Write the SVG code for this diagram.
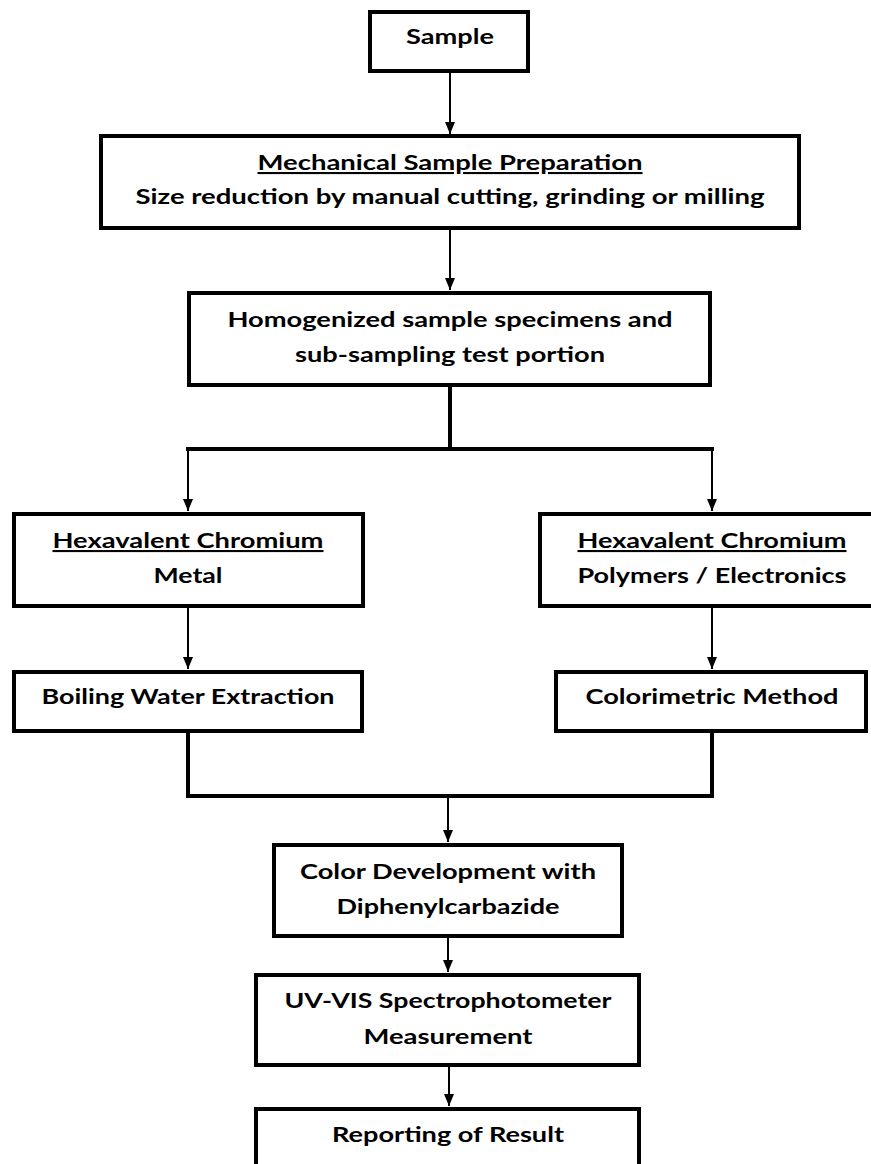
<svg xmlns="http://www.w3.org/2000/svg" width="871" height="1164" viewBox="0 0 871 1164">
<style>
.box{fill:#fff;stroke:#000;stroke-width:4}
.t{font-family:Lato,"Open Sans","Liberation Sans",sans-serif;font-weight:bold;font-size:21px;fill:#000;text-anchor:middle}
.u{text-decoration:underline}
.c{fill:none;stroke:#000;stroke-width:2}
.ck{fill:none;stroke:#000;stroke-width:4}
</style>
<defs>
<marker id="ah" markerUnits="userSpaceOnUse" markerWidth="12" markerHeight="12" refX="12" refY="6" orient="auto">
<path d="M0,1 L12,6 L0,11 Z" fill="#000"/>
</marker>
</defs>
<rect width="871" height="1164" fill="#fff"/>
<g id="connectors">
<line class="c" x1="450" y1="73" x2="450" y2="134" marker-end="url(#ah)"/>
<line class="c" x1="450" y1="230" x2="450" y2="290" marker-end="url(#ah)"/>
<polyline class="ck" points="450,387 450,449"/>
<polyline class="ck" points="186,449 714,449"/>
<line class="c" x1="188" y1="449" x2="188" y2="511" marker-end="url(#ah)"/>
<line class="c" x1="712" y1="449" x2="712" y2="511" marker-end="url(#ah)"/>
<line class="c" x1="188" y1="608" x2="188" y2="669" marker-end="url(#ah)"/>
<line class="c" x1="712" y1="608" x2="712" y2="669" marker-end="url(#ah)"/>
<polyline class="ck" points="188,733 188,796 712,796 712,733"/>
<line class="c" x1="448" y1="796" x2="448" y2="842" marker-end="url(#ah)"/>
<line class="c" x1="448" y1="938" x2="448" y2="972" marker-end="url(#ah)"/>
<line class="c" x1="449" y1="1067" x2="449" y2="1106" marker-end="url(#ah)"/>
</g>
<g id="sample">
<rect class="box" x="370" y="12" width="158" height="59"/>
<text class="t" x="450" y="44" textLength="88" lengthAdjust="spacingAndGlyphs">Sample</text>
</g>
<g id="mechanical">
<rect class="box" x="101" y="136" width="698" height="92"/>
<text class="t u" x="450" y="170" textLength="385" lengthAdjust="spacingAndGlyphs">Mechanical Sample Preparation</text>
<text class="t" x="450" y="204" textLength="629" lengthAdjust="spacingAndGlyphs">Size reduction by manual cutting, grinding or milling</text>
</g>
<g id="homogenized">
<rect class="box" x="189" y="293" width="521" height="92"/>
<text class="t" x="450" y="327" textLength="445" lengthAdjust="spacingAndGlyphs">Homogenized sample specimens and</text>
<text class="t" x="450" y="362" textLength="310" lengthAdjust="spacingAndGlyphs">sub-sampling test portion</text>
</g>
<g id="hc-metal">
<rect class="box" x="14" y="514" width="349" height="92"/>
<text class="t u" x="188" y="548" textLength="271" lengthAdjust="spacingAndGlyphs">Hexavalent Chromium</text>
<text class="t" x="188" y="583" textLength="69" lengthAdjust="spacingAndGlyphs">Metal</text>
</g>
<g id="hc-polymers">
<rect class="box" x="540" y="514" width="340" height="92"/>
<text class="t u" x="712" y="548" textLength="269" lengthAdjust="spacingAndGlyphs">Hexavalent Chromium</text>
<text class="t" x="712" y="583" textLength="269" lengthAdjust="spacingAndGlyphs">Polymers / Electronics</text>
</g>
<g id="boiling">
<rect class="box" x="14" y="672" width="348" height="59"/>
<text class="t" x="188" y="704" textLength="293" lengthAdjust="spacingAndGlyphs">Boiling Water Extraction</text>
</g>
<g id="colorimetric">
<rect class="box" x="556" y="672" width="310" height="59"/>
<text class="t" x="712" y="704" textLength="253" lengthAdjust="spacingAndGlyphs">Colorimetric Method</text>
</g>
<g id="color-development">
<rect class="box" x="274" y="845" width="348" height="91"/>
<text class="t" x="448" y="879" textLength="296" lengthAdjust="spacingAndGlyphs">Color Development with</text>
<text class="t" x="448" y="914" textLength="223" lengthAdjust="spacingAndGlyphs">Diphenylcarbazide</text>
</g>
<g id="uv-vis">
<rect class="box" x="256" y="975" width="383" height="90"/>
<text class="t" x="448" y="1008" textLength="327" lengthAdjust="spacingAndGlyphs">UV-VIS Spectrophotometer</text>
<text class="t" x="448" y="1044" textLength="169" lengthAdjust="spacingAndGlyphs">Measurement</text>
</g>
<g id="reporting">
<rect class="box" x="256" y="1109" width="383" height="80"/>
<text class="t" x="448" y="1142" textLength="232" lengthAdjust="spacingAndGlyphs">Reporting of Result</text>
</g>
</svg>
